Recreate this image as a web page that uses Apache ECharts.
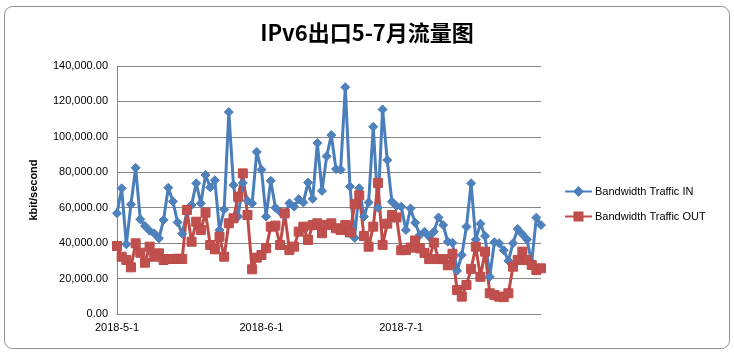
<!DOCTYPE html>
<html>
<head>
<meta charset="utf-8">
<title>IPv6出口5-7月流量图</title>
<script src="https://cdn.jsdelivr.net/npm/echarts@6/dist/echarts.min.js"></script>
<style>
  html, body { margin: 0; padding: 0; background: #fff; }
  #chart { width: 734px; height: 354px; }
</style>
</head>
<body>
<div id="chart"></div>
<script>
// 日期：2018-5-1 ~ 2018-7-31，每天一个点
const monthDays = [31, 30, 31];
const monthNums = [5, 6, 7];
const tickLabels = ["2018-5-1", "2018-6-1", "2018-7-1"];

// Bandwidth Traffic IN (kbit/second)
const trafficIn = [
  56850, 70950, 39350, 61900, 82500, 53450, 49700, 47000, 45500, 42700,
  53050, 71300, 63600, 51750, 45350, 57500, 61500, 73800, 62500, 78500,
  71500, 75500, 47400, 59000, 114000, 72800, 55000, 74000, 64000, 62500,
  91500, 81500, 55000, 75200, 60000, 57700, 55900, 62500, 60600, 64800,
  63000, 74200, 65000, 96500, 69500, 89000, 101000, 81800, 81500, 128000,
  72000, 43000, 71000, 55000, 63000, 105700, 60000, 115500, 86900, 63400,
  61000, 60600, 47400, 59600, 51500, 44600, 46400, 43600, 46400, 54500,
  50200, 40800, 40200, 24400, 33300, 49300, 73800, 42000, 51000, 44000,
  21000, 40500, 40000, 36000, 30000, 40000, 48000, 45000, 42000, 29000,
  54400, 50200
];

// Bandwidth Traffic OUT (kbit/second)
const trafficOut = [
  38400, 32350, 30500, 26350, 39900, 34600, 28950, 38000, 32350, 34250,
  30500, 31050, 31050, 31200, 31050, 58700, 40800, 52100, 47400, 57200,
  38950, 36500, 43650, 32350, 51200, 54000, 66200, 79400, 55900, 25250,
  31800, 33300, 37100, 49300, 49900, 38950, 56800, 36100, 38000, 46500,
  49300, 41800, 50200, 51200, 45600, 50200, 51200, 48400, 47400, 50200,
  46000, 62000, 67000, 44000, 38000, 49300, 74000, 39000, 51000, 55900,
  54500, 36000, 36100, 37500, 41500, 37000, 34500, 31000, 40300, 31000,
  31000, 27500, 34000, 13500, 9800, 16400, 25500, 38000, 21000, 35200,
  11700, 10700, 9800, 9500, 11700, 26700, 30500, 35200, 30500, 27700,
  24800, 25800
];

const dates = [];
monthDays.forEach((n, m) => {
  for (let d = 1; d <= n; d++) dates.push("2018-" + monthNums[m] + "-" + d);
});

const axisGray = "#868686";
const font = "Liberation Sans";

const chart = echarts.init(document.getElementById("chart"));
chart.setOption({
  backgroundColor: "#fff",
  animation: false,
  title: {
    text: "IPv6出口5-7月流量图",
    left: "center",
    top: 17,
    textStyle: {
      fontFamily: "Noto Sans CJK SC",
      fontSize: 22,
      fontWeight: "bold",
      color: "#000",
    },
  },
  graphic: [
    {
      type: "rect",
      shape: { x: 4.5, y: 6.5, width: 725, height: 342, r: 8 },
      style: { fill: "none", stroke: "#8c9096", lineWidth: 1 },
      silent: true,
    },
  ],
  legend: {
    orient: "vertical",
    left: 559,
    top: 181,
    itemWidth: 27,
    itemHeight: 10,
    itemGap: 14,
    textStyle: { fontFamily: font, fontSize: 11, color: "#000", padding: [0, 0, 0, -2] },
    data: ["Bandwidth Traffic IN", "Bandwidth Traffic OUT"],
  },
  grid: { left: 117, right: 193, top: 66, bottom: 40 },
  xAxis: {
    type: "category",
    data: dates,
    boundaryGap: false,
    axisLine: { show: true, lineStyle: { color: axisGray } },
    axisTick: { show: false },
    axisLabel: {
      interval: (idx, val) => tickLabels.includes(val),
      fontFamily: font,
      fontSize: 11,
      color: "#000",
      margin: 8,
    },
    splitLine: { show: false },
  },
  yAxis: {
    type: "value",
    min: 0,
    max: 140000,
    interval: 20000,
    name: "kbit/second",
    nameLocation: "middle",
    nameGap: 78,
    nameTextStyle: { fontFamily: font, fontSize: 11, fontWeight: "bold", color: "#000" },
    axisLine: { show: true, lineStyle: { color: axisGray } },
    axisTick: { show: false },
    axisLabel: {
      fontFamily: font,
      fontSize: 11,
      color: "#000",
      margin: 9,
      formatter: (v) =>
        v.toLocaleString("en-US", { minimumFractionDigits: 2, maximumFractionDigits: 2 }),
    },
    splitLine: { lineStyle: { color: axisGray, width: 1 } },
  },
  series: [
    {
      name: "Bandwidth Traffic IN",
      type: "line",
      data: trafficIn,
      symbol: "diamond",
      symbolSize: 9,
      showAllSymbol: true,
      lineStyle: { color: "#4a7ebb", width: 3 },
      itemStyle: { color: "#4f81bd", borderColor: "#4a7ebb", borderWidth: 1 },
    },
    {
      name: "Bandwidth Traffic OUT",
      type: "line",
      data: trafficOut,
      symbol: "rect",
      symbolSize: 9,
      showAllSymbol: true,
      lineStyle: { color: "#be4b48", width: 3 },
      itemStyle: { color: "#c0504d", borderColor: "#be4b48", borderWidth: 1 },
    },
  ],
});
</script>
</body>
</html>
